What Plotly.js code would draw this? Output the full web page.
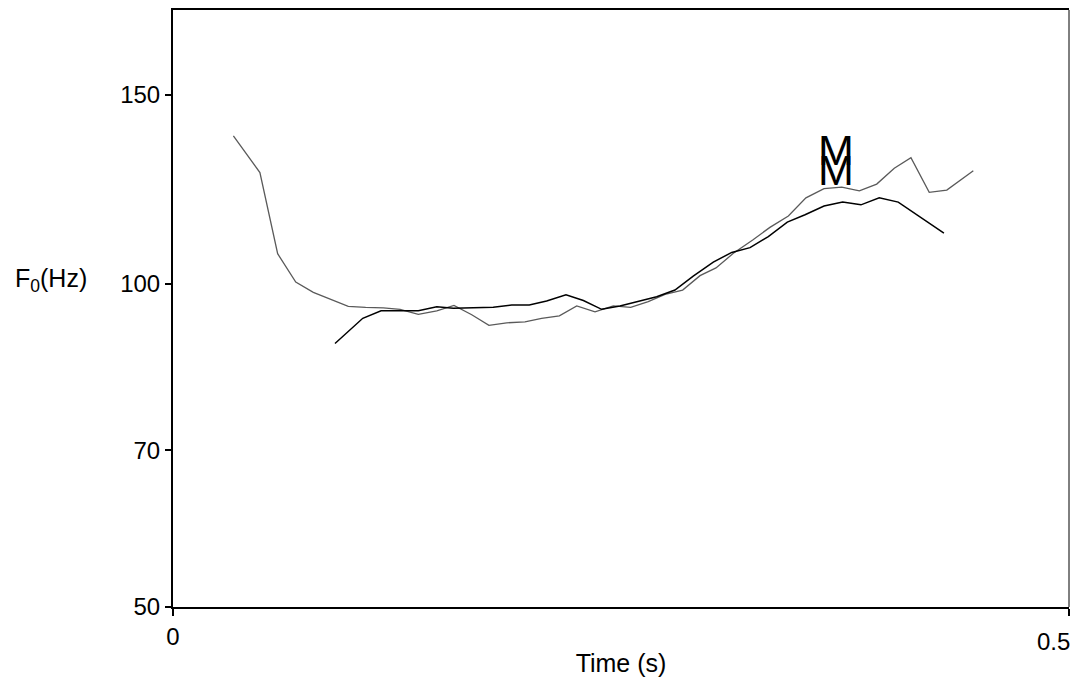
<!DOCTYPE html>
<html>
<head>
<meta charset="utf-8">
<script src="https://cdn.plot.ly/plotly-3.0.1.min.js"></script>
<style>html,body{margin:0;padding:0;background:#fff;}#chart{width:1077px;height:681px;}</style>
</head>
<body>
<div id="chart"></div>
<script>
// Gray contour (time in s, F0 in Hz)
const grayTime = [0.0337,0.0485,0.0584,0.0685,0.0783,0.0880,0.0978,0.1075,0.1174,0.1267,0.1369,0.1472,0.1568,0.1667,0.1763,0.1862,0.1964,0.2057,0.2156,0.2253,0.2355,0.2457,0.2554,0.2652,0.2746,0.2844,0.2941,0.3030,0.3127,0.3235,0.3331,0.3434,0.3532,0.3633,0.3732,0.3830,0.3927,0.4025,0.4118,0.4220,0.4318,0.4466];
const grayF0 = [137.4,127.0,106.7,100.4,98.2,96.8,95.3,95.1,95.0,94.7,93.7,94.4,95.5,93.6,91.5,92.0,92.2,92.9,93.4,95.4,94.2,95.4,95.1,96.3,97.8,98.7,101.8,103.5,106.8,109.9,112.9,115.7,120.3,122.7,123.1,122.1,123.9,128.2,131.1,121.7,122.3,127.5];
// Black contour
const blackTime = [0.0904,0.1059,0.1161,0.1267,0.1369,0.1472,0.1564,0.1676,0.1787,0.1890,0.1988,0.2085,0.2193,0.2290,0.2392,0.2494,0.2597,0.2699,0.2801,0.2903,0.3015,0.3118,0.3220,0.3322,0.3428,0.3527,0.3633,0.3737,0.3839,0.3941,0.4047,0.4169,0.4302];
const blackF0 = [88.0,92.9,94.4,94.4,94.4,95.2,94.9,95.0,95.1,95.6,95.6,96.4,97.7,96.5,94.7,95.4,96.4,97.3,98.7,101.7,104.8,107.0,108.1,110.7,114.2,116.0,118.2,119.2,118.5,120.3,119.2,115.4,111.5];
// Axis ticks
const yTickVals = [50,70,100,150];
const yTickText = ['50','70','100','150'];
const xTickVals = [0,0.5];
const xTickText = ['0','0.5'];
// Labels "M" (time, F0)
const markLabels = ['M','M'];
const markTime = [0.3700,0.3697];
const markF0 = [133.3,127.8];

const FONT = 'Liberation Sans, Arial, sans-serif';

const traces = [
  {x: grayTime, y: grayF0, type: 'scatter', mode: 'lines', line: {color: '#5a5a5a', width: 1.3}, hoverinfo: 'skip'},
  {x: blackTime, y: blackF0, type: 'scatter', mode: 'lines', line: {color: '#000000', width: 1.5}, hoverinfo: 'skip'}
];

const annotations = [];
for (let i = 0; i < markLabels.length; i++) {
  annotations.push({x: markTime[i], y: Math.log10(markF0[i]), xref: 'x', yref: 'y', text: markLabels[i], showarrow: false,
    xanchor: 'center', yanchor: 'middle', font: {family: FONT, size: 43, color: '#000'}});
}
// right-aligned 0.5 label
annotations.push({x: xTickVals[1], y: 0, xref: 'x', yref: 'paper', text: xTickText[1], showarrow: false,
  xanchor: 'right', yanchor: 'top', xshift: 3, yshift: -19, font: {family: FONT, size: 24, color: '#000'}});
// y title (horizontal)
annotations.push({x: -0.1364, y: 0.548, xref: 'paper', yref: 'paper', text: 'F<sub>0</sub>(Hz)', showarrow: false,
  xanchor: 'center', yanchor: 'middle', font: {family: FONT, size: 25, color: '#000'}});

const layout = {
  width: 1077, height: 681,
  margin: {l: 173, r: 8, t: 10, b: 74, pad: 0},
  paper_bgcolor: '#fff', plot_bgcolor: '#fff',
  showlegend: false,
  font: {family: FONT, color: '#000'},
  xaxis: {
    range: [0, 0.5], showgrid: false, zeroline: false,
    showline: true, linecolor: '#000', linewidth: 2, mirror: true,
    ticks: 'outside', ticklen: 7, tickwidth: 1.5, tickcolor: '#000',
    tickvals: xTickVals, ticktext: [xTickText[0], ''],
    tickfont: {family: FONT, size: 24, color: '#000'},
    title: {text: 'Time (s)', font: {family: FONT, size: 25, color: '#000'}, standoff: 6},
    automargin: false
  },
  yaxis: {
    type: 'log', range: [Math.log10(50), Math.log10(180)], showgrid: false, zeroline: false,
    showline: true, linecolor: '#000', linewidth: 2,
    ticks: 'outside', ticklen: 6, tickwidth: 1.5, tickcolor: '#000',
    tickvals: yTickVals, ticktext: yTickText,
    tickfont: {family: FONT, size: 24, color: '#000'},
    automargin: false
  },
  shapes: [
    {type: 'line', xref: 'paper', yref: 'paper', x0: 1, x1: 1, y0: 0, y1: 1, line: {color: '#000', width: 1}}
  ],
  annotations: annotations
};

Plotly.newPlot('chart', traces, layout, {displayModeBar: false, staticPlot: true});
</script>
</body>
</html>
